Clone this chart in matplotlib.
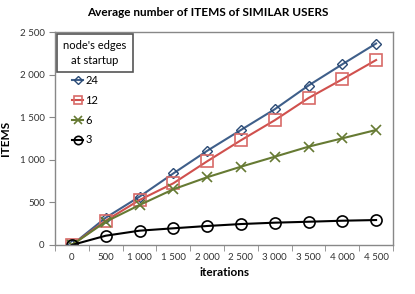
import numpy as np
import matplotlib.pyplot as plt
from matplotlib.patches import Rectangle

plt.rcParams['font.family'] = ['Lato', 'DejaVu Sans']

# data
iterations = ['0', '500', '1 000', '1 500', '2 000', '2 500', '3 000', '3 500', '4 000', '4 500']
edges24 = [0, 320, 567, 840, 1105, 1350, 1593, 1872, 2121, 2365]
edges12 = [0, 285, 528, 724, 982, 1229, 1464, 1725, 1945, 2171]
edges6 = [0, 273, 469, 654, 795, 919, 1036, 1154, 1252, 1350]
edges3 = [0, 109, 168, 196, 223, 246, 262, 273, 285, 293]

x = np.arange(len(iterations))

fig = plt.figure(figsize=(4.15, 2.94), dpi=100)
ax = fig.add_axes([55 / 415, 49 / 294, 338 / 415, 213 / 294])

ax.plot(x, edges24, color='#3F5F8A', lw=1.5, marker='D', ms=5.5, mfc='none',
        mec='#2A4A75', mew=1.0, label='24')
ax.plot(x, edges12, color='#D0504D', lw=1.5, marker='s', ms=8, mfc='none',
        mec='#D86A67', mew=1.2, label='12')
ax.plot(x, edges6, color='#667A33', lw=1.5, marker='x', ms=7, mec='#667A33',
        mew=1.2, label='6')
ax.plot(x, edges3, color='black', lw=1.5, marker='o', ms=8, mfc='none',
        mec='black', mew=1.2, label='3')

ax.set_xlim(-0.5, len(x) - 0.5)
ax.set_ylim(0, 2500)
ax.set_xticks(x)
ax.set_xticklabels(iterations)
ax.set_xticks(np.arange(len(x) + 1) - 0.5, minor=True)
ax.tick_params(axis='x', which='major', length=0, labelsize=7, pad=6, labelcolor='#333333')
ax.tick_params(axis='x', which='minor', length=4, color='#888888')
ax.set_yticks(np.arange(0, 2501, 500))
ax.set_yticklabels(['0', '500', '1 000', '1 500', '2 000', '2 500'])
ax.tick_params(axis='y', length=4, labelsize=7, color='#888888', labelcolor='#333333')
for s in ax.spines.values():
    s.set_color('#888888')
    s.set_linewidth(1.0)

ax.set_xlabel('iterations', fontsize=8.5, fontweight='bold', labelpad=3)
ax.set_ylabel('ITEMS', fontsize=8.5, fontweight='bold', labelpad=6)
fig.text(0.5, 0.945, 'Average number of ITEMS of SIMILAR USERS', ha='center',
         fontsize=8.5, fontweight='bold')

# legend title box
ax.add_patch(Rectangle((0.006, 0.812), 0.225, 0.179, transform=ax.transAxes,
                       fc='white', ec='#555555', lw=1.2, zorder=5))
ax.text(0.118, 0.901, "node's edges\nat startup", transform=ax.transAxes, ha='center',
        va='center', fontsize=8, linespacing=1.5, zorder=6)
leg = ax.legend(loc='upper left', bbox_to_anchor=(0.037, 0.82), frameon=False,
                fontsize=8, handlelength=1.0, handletextpad=0.2, labelspacing=0.8,
                borderaxespad=0, markerscale=0.75)

fig.savefig('out.png', dpi=100)
